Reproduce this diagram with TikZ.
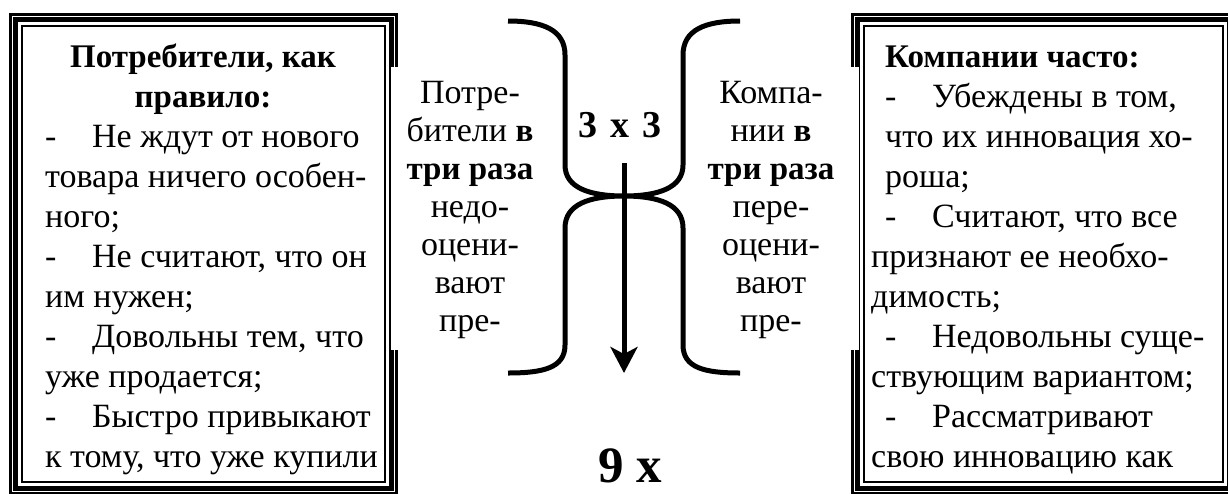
\documentclass[tikz,border=0pt]{standalone}
\usepackage{fontspec}
\setmainfont{Liberation Serif}
\usetikzlibrary{arrows.meta}
\newcommand\dashitem[1]{\makebox[47pt][l]{-}#1}
\newcommand\bfpart[1]{{\fontsize{33}{38}\selectfont\bfseries #1}}
\begin{document}
\begin{tikzpicture}[x=1pt,y=-1pt,
  frameout/.style={line width=3pt},
  framemid/.style={line width=4.5pt},
  framein/.style={line width=2pt},
  bracepath/.style={line width=5pt,line join=round,line cap=butt},
  downarrow/.style={line width=5pt,-{Stealth[length=26pt,width=27pt,inset=7pt]}},
  boxtext/.style={anchor=base west,inner sep=0pt,font=\fontsize{34}{40}\selectfont},
  boxtitle/.style={inner sep=0pt,font=\fontsize{33}{40}\selectfont\bfseries},
  ctext/.style={anchor=base,inner sep=0pt,font=\fontsize{34}{38}\selectfont},
  bigmark/.style={anchor=base,inner sep=0pt,font=\bfseries}]
\useasboundingbox (0,0) rectangle (1228,493);
\path[clip] (0,0) rectangle (1228,493);

% triple-line frames of the two side boxes
\newcommand\tripleframe[4]{%
  \draw[frameout] (#1+1.5,#2+1.5) rectangle (#3-1.5,#4-1.5);
  \draw[framemid] (#1+6.5,#2+6.5) rectangle (#3-6.5,#4-6.5);
  \draw[framein] (#1+13,#2+13) rectangle (#3-13,#4-13);}
\tripleframe{9}{13}{398}{495}
\tripleframe{851}{13}{1236}{495}

% middle panel laid over the inner edges of the frames
\fill[white] (391,67) rectangle (859,350);

% left box
\node[boxtitle,anchor=base] (lhead1) at (203,67) {Потребители, как};
\node[boxtitle,anchor=base] (lhead2) at (203,107) {правило:};
\foreach \t [count=\i] in {{\dashitem{Не ждут от нового}},{товара ничего особен-},{ного;},
  {\dashitem{Не считают, что он}},{им нужен;},{\dashitem{Довольны тем, что}},
  {уже продается;},{\dashitem{Быстро привыкают}},{к тому, что уже купили}}
  \node[boxtext] (lline\i) at (45,147+40*\i-40) {\t};

% right box
\node[boxtitle,anchor=base west] (rhead) at (885,67) {Компании часто:};
\foreach \x/\t [count=\i] in {885/{\dashitem{Убеждены в том,}},885/{что их инновация хо-},885/{роша;},
  885/{\dashitem{Считают, что все}},871/{признают ее необхо-},871/{димость;},
  885/{\dashitem{Недовольны суще-}},871/{ствующим вариантом;},
  885/{\dashitem{Рассматривают}},871/{свою инновацию как}}
  \node[boxtext] (rline\i) at (\x,107+40*\i-40) {\t};

% centre columns
\foreach \t [count=\i] in {{Потре-},{бители \bfpart{в}},{\bfpart{три раза}},{недо-},{оцени-},{вают},{пре-}}
  \node[ctext] (cl\i) at (470,103+38*\i-38) {\t};
\foreach \t [count=\i] in {{Компа-},{нии \bfpart{в}},{\bfpart{три раза}},{пере-},{оцени-},{вают},{пре-}}
  \node[ctext] (cr\i) at (771,103+38*\i-38) {\t};

% braces meeting in the middle
\draw[bracepath] (508,21) .. controls (543,21) and (565,30) .. (565,55) -- (565,165)
  .. controls (565,188) and (590,196) .. (624,196)
  .. controls (590,196) and (565,204) .. (565,228) -- (565,345)
  .. controls (565,368) and (543,373) .. (508,373);
\draw[bracepath] (740,21) .. controls (705,21) and (683,30) .. (683,55) -- (683,165)
  .. controls (683,188) and (658,196) .. (624,196)
  .. controls (658,196) and (683,204) .. (683,228) -- (683,345)
  .. controls (683,368) and (705,373) .. (740,373);

% product arrow
\node[bigmark,font=\fontsize{38}{44}\selectfont\bfseries] (three) at (620,137) {3\hspace{13pt}x\hspace{13pt}3};
\coordinate (arrtop) at (624,163);
\coordinate (arrtip) at (624,373);
\draw[downarrow] (arrtop) -- (arrtip);
\node[bigmark,font=\fontsize{51}{60}\selectfont\bfseries] (nine) at (630,482) {9 x};
\end{tikzpicture}
\end{document}
